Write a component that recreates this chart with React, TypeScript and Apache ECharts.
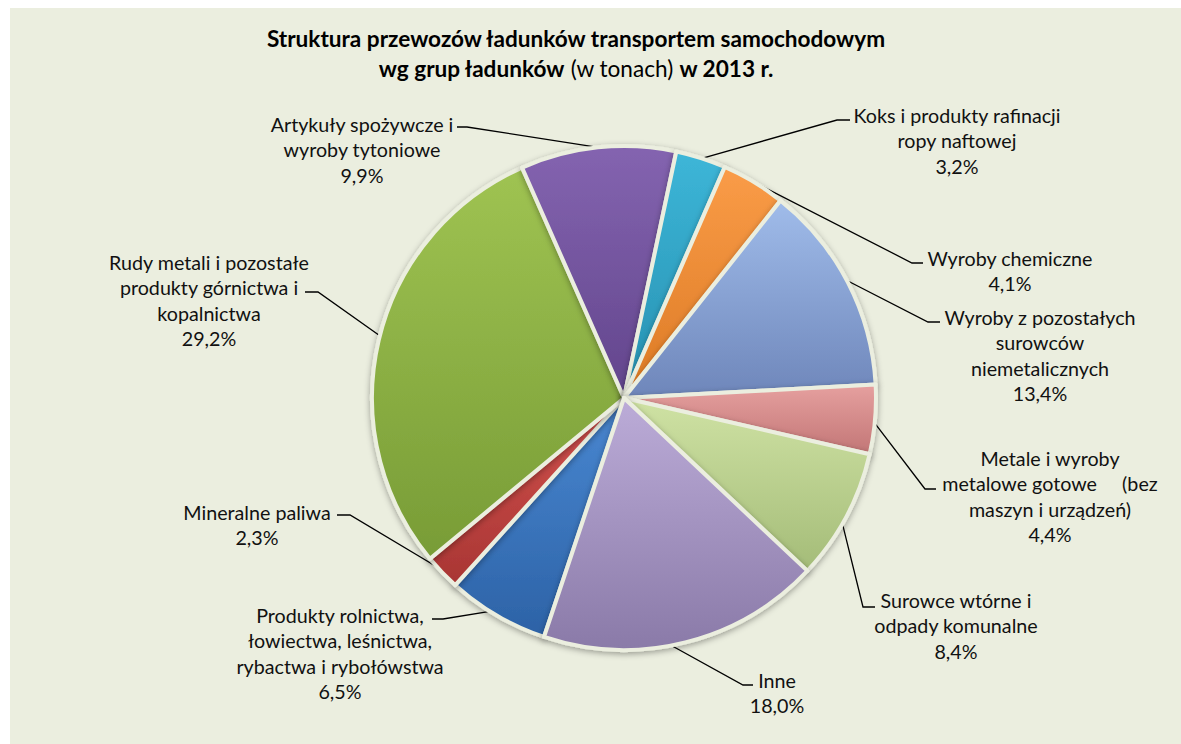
import React, { useEffect, useRef } from "react";
import * as echarts from "echarts";

// ---------- data ----------
const categories = [
  "Produkty rolnictwa,\nłowiectwa, leśnictwa,\nrybactwa i rybołówstwa",
  "Mineralne paliwa",
  "Rudy metali i pozostałe\nprodukty górnictwa i\nkopalnictwa",
  "Artykuły spożywcze i\nwyroby tytoniowe",
  "Koks i produkty rafinacji\nropy naftowej",
  "Wyroby chemiczne",
  "Wyroby z pozostałych\nsurowców\nniemetalicznych",
  "Metale i wyroby\nmetalowe gotowe\u00A0\u00A0\u00A0\u00A0\u00A0(bez\nmaszyn i urządzeń)",
  "Surowce wtórne i\nodpady komunalne",
  "Inne",
];
const shares = [6.5, 2.3, 29.2, 9.9, 3.2, 4.1, 13.4, 4.4, 8.4, 18.0];

const titleLine1 = "Struktura przewozów ładunków transportem samochodowym";
const titleLine2Bold = "wg grup ładunków";
const titleLine2Normal = "(w tonach)";
const titleLine2End = "w 2013 r.";

// ---------- styles ----------
const colorsTop = [
  "#4A88D2", "#D4534F", "#9FC352", "#8464B0", "#3DB6D8",
  "#FA9C48", "#A0BCEA", "#E6A09F", "#CFE2A4", "#BCACD8",
];
const colorsBottom = [
  "#2C62A6", "#A83533", "#789C36", "#62458C", "#2690B0",
  "#DC7A24", "#6E86BA", "#C27676", "#A4BC78", "#8A7AA8",
];

const BG = "#EBEEDF";
const FONT = "Lato, 'Open Sans', sans-serif";
const FONT_SIZE = 19.7;
const LINE_H = 25.5;
const TITLE_SIZE = 22.6;

// pie geometry (pixels)
const CX = 624;
const CY = 398;
const R = 252;
const START_ANGLE = -108.5;

// label placement: text block centre x, first-line centre y,
// attach fraction along the slice arc, elbow and end points of leader line
const labelPlacement = [
  { x: 340, y: 615, attach: 0.58, elbow: [443, 619], end: [432, 619] },
  { x: 257, y: 512, attach: 0.7, elbow: [350, 515], end: [337, 515] },
  { x: 209, y: 262, attach: 0.51, elbow: [318, 292], end: [305, 292] },
  { x: 362, y: 124, attach: 0.5, elbow: [467, 127], end: [457, 127] },
  { x: 957, y: 115, attach: 0.52, elbow: [837, 120], end: [850, 120] },
  { x: 1010, y: 258, attach: 0.49, elbow: [912, 263], end: [923, 263] },
  { x: 1040, y: 317, attach: 0.49, elbow: [928, 322], end: [940, 322] },
  { x: 1050, y: 458, attach: 0.55, elbow: [925, 489], end: [936, 489] },
  { x: 956, y: 600, attach: 0.56, elbow: [863, 607], end: [875, 607] },
  { x: 777, y: 680, attach: 0.55, elbow: [743, 685], end: [753, 685] },
];

const fmt = (v: number) => v.toFixed(1).replace(".", ",") + "%";

function attachPoint(idx: number, t: number): number[] {
  const total = shares.reduce((a, b) => a + b, 0);
  let cum = 0;
  for (let i = 0; i < idx; i++) cum += shares[i];
  const deg = 90 - START_ANGLE + ((cum + t * shares[idx]) / total) * 360;
  const rad = (deg * Math.PI) / 180;
  return [CX + R * Math.sin(rad), CY - R * Math.cos(rad)];
}

export default function App() {
  const ref = useRef<HTMLDivElement>(null);

  useEffect(() => {
    if (!ref.current) return;
    const chart = echarts.init(ref.current, undefined, { renderer: "svg" });

    const data = categories.map((name, i) => ({
      name,
      value: shares[i],
      itemStyle: {
        color: new echarts.graphic.LinearGradient(0, 0, 0, 1, [
          { offset: 0, color: colorsTop[i] },
          { offset: 1, color: colorsBottom[i] },
        ]),
      },
    }));

    chart.setOption({
      animation: false,
      backgroundColor: "transparent",
      graphic: [
        {
          type: "rect",
          z: -10,
          silent: true,
          shape: { x: 10, y: 8, width: 1171, height: 736 },
          style: { fill: BG },
        },
        {
          type: "text",
          x: 576,
          y: 23,
          style: {
            text:
              "{b|" + titleLine1 + "}\n{b|" + titleLine2Bold + "} {n|" +
              titleLine2Normal + "} {b|" + titleLine2End + "}",
            align: "center",
            verticalAlign: "top",
            fontFamily: FONT,
            fontSize: TITLE_SIZE,
            fill: "#000",
            rich: {
              b: { fontFamily: FONT, fontWeight: "bold", fontSize: TITLE_SIZE, lineHeight: 30, fill: "#000" },
              n: { fontFamily: FONT, fontWeight: "normal", fontSize: TITLE_SIZE, lineHeight: 30, fill: "#000" },
            },
          },
        },
      ],
      series: [
        {
          type: "pie",
          center: [CX, CY],
          radius: R,
          startAngle: START_ANGLE,
          clockwise: true,
          avoidLabelOverlap: false,
          data,
          itemStyle: {
            borderColor: BG,
            borderWidth: 4,
            shadowBlur: 6,
            shadowColor: "rgba(0,0,0,0.35)",
            shadowOffsetY: 2,
          },
          label: {
            show: true,
            position: "outside",
            overflow: "none",
            color: "#111",
            fontFamily: FONT,
            fontSize: FONT_SIZE,
            lineHeight: LINE_H,
            formatter: (p: any) => p.name + "\n" + fmt(p.value),
          },
          labelLine: {
            show: true,
            lineStyle: { color: "#000", width: 1.3 },
          },
          labelLayout: (params: any) => {
            const lp = labelPlacement[params.dataIndex];
            return {
              x: lp.x,
              y: lp.y - LINE_H / 2,
              align: "center",
              verticalAlign: "top",
              labelLinePoints: [attachPoint(params.dataIndex, lp.attach), lp.elbow, lp.end],
            };
          },
          emphasis: { disabled: true },
        },
      ],
    });

    return () => chart.dispose();
  }, []);

  return (
    <div
      ref={ref}
      style={{ position: "fixed", left: 0, top: 0, width: 1181, height: 744, background: "#fff" }}
    />
  );
}
